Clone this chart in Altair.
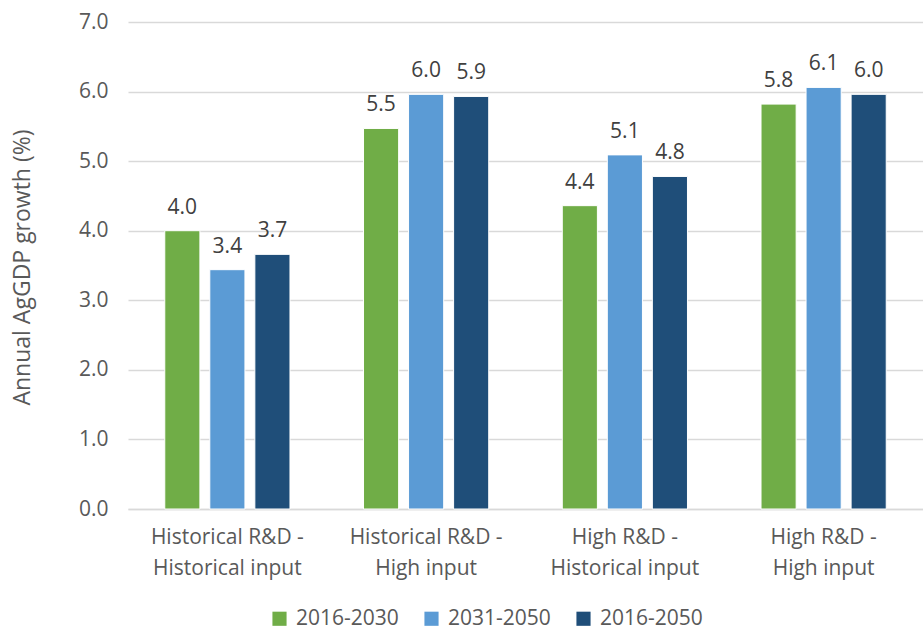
import altair as alt
import pandas as pd

scenarios = [
    "Historical R&D - Historical input",
    "Historical R&D - High input",
    "High R&D - Historical input",
    "High R&D - High input",
]
periods = ["2016-2030", "2031-2050", "2016-2050"]
colors = ["#70AD47", "#5B9BD5", "#1F4E79"]

growth_2016_2030 = [4.00, 5.47, 4.36, 5.82]
growth_2031_2050 = [3.44, 5.96, 5.09, 6.06]
growth_2016_2050 = [3.66, 5.93, 4.78, 5.96]

rows = []
for i, s in enumerate(scenarios):
    for p, vals in zip(periods, [growth_2016_2030, growth_2031_2050, growth_2016_2050]):
        rows.append({"scenario": s, "period": p, "growth": vals[i]})
df = pd.DataFrame(rows)

FONT = "Open Sans"
GRAY = "#595959"
FS = 21

x_enc = alt.X(
    "scenario:N",
    sort=scenarios,
    scale=alt.Scale(paddingInner=0.37, paddingOuter=0.185),
    axis=alt.Axis(
        title=None,
        labelAngle=0,
        labelExpr="[split(datum.value, ' - ')[0] + ' -', split(datum.value, ' - ')[1]]",
        labelFontSize=FS,
        labelColor=GRAY,
        labelFont=FONT,
        labelPadding=17,
        labelLineHeight=31,
        ticks=False,
        domainColor="#D9D9D9",
        domainWidth=1.5,
    ),
)
xoff = alt.XOffset("period:N", sort=periods, scale=alt.Scale(paddingInner=0.22))
y_enc = alt.Y(
    "growth:Q",
    scale=alt.Scale(domain=[0, 7], nice=False),
    axis=alt.Axis(
        title="Annual AgGDP growth (%)",
        titleFontSize=23,
        titleFont=FONT,
        titleFontWeight="normal",
        titleColor=GRAY,
        titlePadding=44,
        titleY=245,
        values=[0, 1, 2, 3, 4, 5, 6, 7],
        format=".1f",
        labelFontSize=FS,
        labelFont=FONT,
        labelColor=GRAY,
        labelPadding=20,
        ticks=False,
        domain=False,
        gridColor="#D9D9D9",
        gridWidth=1.5,
    ),
)

bars = alt.Chart(df).mark_bar(stroke="white", strokeWidth=1).encode(
    x=x_enc,
    xOffset=xoff,
    y=y_enc,
    color=alt.Color(
        "period:N",
        sort=periods,
        scale=alt.Scale(domain=periods, range=colors),
        legend=alt.Legend(
            title=None,
            orient="none",
            direction="horizontal",
            legendX=141,
            legendY=586,
            symbolType="square",
            symbolSize=200,
            symbolStrokeWidth=0,
            labelFontSize=FS,
            labelFont=FONT,
            labelColor=GRAY,
            columnPadding=22,
            labelOffset=6,
        ),
    ),
)

labels = alt.Chart(df).mark_text(
    baseline="bottom", dy=-13, fontSize=FS, font=FONT, color="#404040"
).encode(
    x=alt.X("scenario:N", sort=scenarios),
    xOffset=alt.XOffset("period:N", sort=periods),
    y="growth:Q",
    text=alt.Text("growth:Q", format=".1f"),
)

chart = (
    alt.layer(bars, labels)
    .properties(
        width=795,
        height=487,
        autosize=alt.AutoSizeParams(type="none"),
        padding={"left": 128, "top": 22, "right": 0, "bottom": 122},
        background="white",
    )
    .configure_view(stroke=None)
)

chart.save("out.html", embed_options={"renderer": "svg", "actions": False})
